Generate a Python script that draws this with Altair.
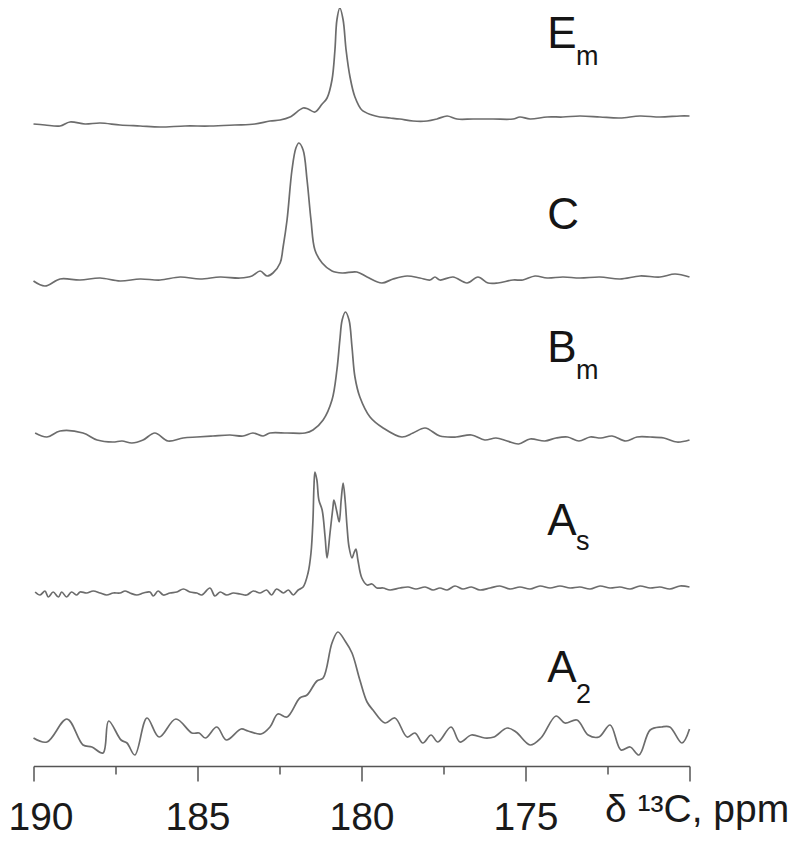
import altair as alt
import pandas as pd

# ---- spectra: chemical shift (ppm) and intensity (a.u., relative to each baseline)
em_ppm = [190.00, 189.65, 189.19, 188.89, 188.43, 187.97, 187.36, 186.75, 186.14, 185.38, 184.62, 183.86,
          183.25, 182.79, 182.48, 182.18, 181.78, 181.63, 181.42, 181.20, 181.05, 180.90, 180.81, 180.75,
          180.66, 180.56, 180.47, 180.35, 180.20, 179.99, 179.68, 179.44, 179.13, 178.83, 178.43, 178.00,
          177.70, 177.39, 177.09, 176.60, 175.99, 175.38, 175.17, 174.86, 174.34, 173.86, 173.34, 172.73,
          172.12, 171.51, 170.90, 170.29, 170.00]
em_int = [-6, -7, -8, -4, -6, -5, -7, -8, -9, -8, -8, -7,
          -6, -3, -2, 1, 10, 9, 6, 14, 20, 38, 68, 98,
          110, 98, 68, 41, 21, 8, 3, 1, 0, -1, -3, -3,
          -1, 2, -1, -1, -1, -1, 1, -1, 1, 1, 2, 1,
          0, 2, 1, 2, 2]

c_ppm = [190.00, 189.65, 189.19, 188.58, 187.97, 187.36, 186.75, 186.14, 185.53, 184.92, 184.31, 183.70,
         183.34, 183.09, 182.88, 182.70, 182.48, 182.39, 182.27, 182.12, 182.00, 181.91, 181.78, 181.66,
         181.54, 181.42, 181.20, 180.90, 180.59, 180.14, 179.83, 179.38, 179.04, 178.61, 178.22, 177.91,
         177.76, 177.61, 177.21, 176.78, 176.45, 176.14, 175.84, 175.38, 175.08, 174.71, 174.34, 173.86,
         173.34, 172.73, 172.12, 171.51, 170.90, 170.44, 170.00]
c_int = [-3, -8, -1, -2, 0, -3, -1, -2, 1, -1, 1, 0,
         2, 7, 2, 5, 15, 31, 58, 108, 130, 135, 128, 98,
         58, 28, 15, 7, 5, 6, 1, -5, -1, 2, 0, -2,
         1, -2, 1, -5, 1, -5, -5, -2, -2, 2, 0, 1,
         0, 1, -1, 2, 1, 4, 1]

bm_ppm = [189.95, 189.59, 189.19, 188.49, 188.06, 187.58, 187.30, 187.00, 186.66, 186.30, 185.90, 185.44,
          185.02, 184.53, 184.01, 183.61, 183.31, 183.00, 182.79, 182.27, 181.72, 181.48, 181.17, 180.90,
          180.75, 180.66, 180.59, 180.49, 180.38, 180.29, 180.20, 180.05, 179.74, 179.34, 178.77, 178.43,
          178.06, 177.61, 177.12, 176.65, 176.24, 175.90, 175.56, 175.21, 174.86, 174.41, 174.07, 173.72,
          173.37, 173.03, 172.70, 172.36, 171.94, 171.60, 171.20, 170.78, 170.38, 170.00]
bm_int = [2, -2, 4, 2, -5, -7, -6, -8, -5, 2, -6, -3,
          -2, -1, 0, -1, 2, -1, 2, 2, 2, 5, 15, 35,
          65, 95, 115, 123, 115, 88, 58, 38, 18, 7, -2, 2,
          7, -1, -2, 0, -5, -3, -6, -9, -4, -6, -3, -2,
          -6, -2, -3, -1, -6, -2, -2, -3, -7, -5]

as_ppm = [189.95, 189.80, 189.65, 189.55, 189.40, 189.24, 189.14, 188.99, 188.84, 188.68, 188.58, 188.38,
          188.18, 187.97, 187.77, 187.57, 187.36, 187.21, 187.06, 186.85, 186.65, 186.45, 186.35, 186.20,
          186.04, 185.84, 185.63, 185.43, 185.23, 185.02, 184.87, 184.62, 184.47, 184.31, 184.11, 183.91,
          183.70, 183.50, 183.30, 183.09, 182.89, 182.74, 182.59, 182.38, 182.23, 182.08, 181.93,
          181.78, 181.63, 181.54, 181.48, 181.45, 181.42, 181.36, 181.30, 181.20, 181.11, 181.05, 180.96,
          180.87, 180.84, 180.75, 180.68, 180.62, 180.56, 180.50, 180.44, 180.38, 180.29, 180.23, 180.17,
          180.11, 179.99, 179.83, 179.68, 179.53, 179.34, 179.13, 178.83, 178.58,
          178.34, 178.06, 177.82, 177.61, 177.39, 177.15, 176.91, 176.65, 176.39, 176.08, 175.78, 175.47,
          175.17, 174.86, 174.56, 174.25, 173.95, 173.64, 173.34, 173.03, 172.73, 172.42, 172.12, 171.81,
          171.51, 171.20, 170.90, 170.60, 170.29, 170.00]
as_int = [-2, -5, -1, -7, -2, -7, -2, -7, -2, -5, -2, -3,
          -1, -3, -5, -3, -3, -1, -3, -5, -3, -2, -6, -1,
          -5, -3, -2, 1, -2, -3, -5, 2, -6, -2, -5, -3,
          -4, -5, -1, -3, 0, -5, 1, -3, 0, -5, 0,
          3, 17, 37, 70, 103, 118, 110, 90, 80, 53, 32, 57,
          83, 90, 78, 68, 90, 107, 90, 63, 43, 32, 37, 41,
          30, 12, 5, 6, 2, 2, 0, 2, 3,
          1, 3, 0, 2, 0, 4, 1, 3, 0, 2, 4, 1,
          3, 1, 4, 2, 4, 2, 3, 1, 4, 2, 3, 1,
          4, 2, 3, 1, 4, 3]

a2_ppm = [190.00, 189.59, 188.98, 188.49, 188.22, 187.88, 187.71, 187.33, 187.15, 186.91, 186.54, 186.17,
          185.66, 185.17, 184.95, 184.76, 184.41, 184.12, 183.67, 183.46, 183.06, 182.79, 182.55, 182.27,
          181.88, 181.66, 181.36, 181.17, 180.90, 180.72, 180.50, 180.29, 180.05, 179.83, 179.65, 179.28,
          178.98, 178.61, 178.37, 178.13, 177.88, 177.67, 177.27, 177.00, 176.65, 176.24, 175.96, 175.56,
          175.29, 174.86, 174.53, 174.07, 173.80, 173.43, 173.09, 172.76, 172.42, 172.09, 171.81, 171.54,
          171.20, 170.85, 170.60, 170.23, 170.00]
a2_int = [0, -4, 19, -7, -9, -15, 17, -2, -5, -17, 20, 1,
          19, 5, 5, 0, 11, -2, 9, 7, 4, 11, 24, 21,
          40, 43, 57, 60, 95, 106, 97, 85, 58, 36, 28, 15,
          20, 1, 5, -5, 3, -4, 11, -4, 3, 0, 1, 10,
          6, -7, 0, 22, 15, 18, 3, 1, 13, -12, -9, -17,
          8, 11, 11, -5, 9]

names = ["Em", "C", "Bm", "As", "A2"]
offsets = [648, 488, 331, 176, 28]          # vertical stacking of the traces
series = [(em_ppm, em_int), (c_ppm, c_int), (bm_ppm, bm_int), (as_ppm, as_int), (a2_ppm, a2_int)]

# ---- sample labels (main letter + subscript)
lab_main = ["E", "C", "B", "A", "A"]
lab_sub = ["m", "", "m", "s", "2"]
lab_main_y = [718, 537, 404, 231, 84]
lab_sub_y = [701, 520, 387, 216, 63]
lab_main_ppm = 174.34
lab_sub_ppm = 173.46

rows = []
for name, off, (xs, ys) in zip(names, offsets, series):
    for p, v in zip(xs, ys):
        rows.append({"spectrum": name, "ppm": p, "y": off + v})
df = pd.DataFrame(rows)

lab = pd.DataFrame({
    "main": lab_main, "sub": lab_sub,
    "ym": lab_main_y, "ys": lab_sub_y,
    "xm": [lab_main_ppm] * 5, "xs": [lab_sub_ppm] * 5,
})

FONT = "Liberation Sans"

xscale = alt.Scale(domain=[170, 190], reverse=True, nice=False, zero=False)
yscale = alt.Scale(domain=[0, 758], nice=False, zero=False)

xaxis = alt.Axis(
    values=[190, 187.5, 185, 182.5, 180, 177.5, 175, 172.5, 170],
    labelExpr="(datum.value % 5 === 0 && datum.value !== 170) ? datum.label : ''",
    tickSize={"condition": {"test": "datum.value % 5 === 0", "value": 15}, "value": 8},
    labelOffset={"condition": {"test": "datum.value === 190", "value": 7}, "value": 0},
    labelFlush=False,
    labelOverlap=False,
    labelFont=FONT,
    labelFontSize=39,
    labelColor="#1a1a1a",
    labelBaseline="alphabetic",
    labelPadding=48,
    domainColor="#555555",
    domainWidth=1.5,
    tickColor="#555555",
    tickWidth=1.5,
    grid=False,
    title="δ ¹³C, ppm",
    titleFont=FONT,
    titleFontSize=39,
    titleFontWeight="normal",
    titleColor="#1a1a1a",
    titleAlign="left",
    titleBaseline="alphabetic",
    titleX=571,
    titleY=55,
)

lines = alt.Chart(df).mark_line(
    color="#6c6c6c", strokeWidth=1.7, interpolate="catmull-rom"
).encode(
    x=alt.X("ppm:Q", scale=xscale, axis=xaxis),
    y=alt.Y("y:Q", scale=yscale, axis=None),
    detail="spectrum:N",
)

main_txt = alt.Chart(lab).mark_text(
    align="left", baseline="alphabetic", font=FONT, fontSize=44, color="#151515"
).encode(
    x=alt.X("xm:Q", scale=xscale),
    y=alt.Y("ym:Q", scale=yscale),
    text="main:N",
)

sub_txt = alt.Chart(lab).mark_text(
    align="left", baseline="alphabetic", font=FONT, fontSize=27, color="#151515"
).encode(
    x=alt.X("xs:Q", scale=xscale),
    y=alt.Y("ys:Q", scale=yscale),
    text="sub:N",
)

chart = alt.layer(lines, main_txt, sub_txt).properties(
    width=656,
    height=758,
    autosize=alt.AutoSizeParams(type="none"),
    padding={"left": 25.5, "top": 0, "right": 102.5, "bottom": 80},
).configure_view(strokeWidth=0)

chart.save("out.html", embed_options={"renderer": "svg", "actions": False})
